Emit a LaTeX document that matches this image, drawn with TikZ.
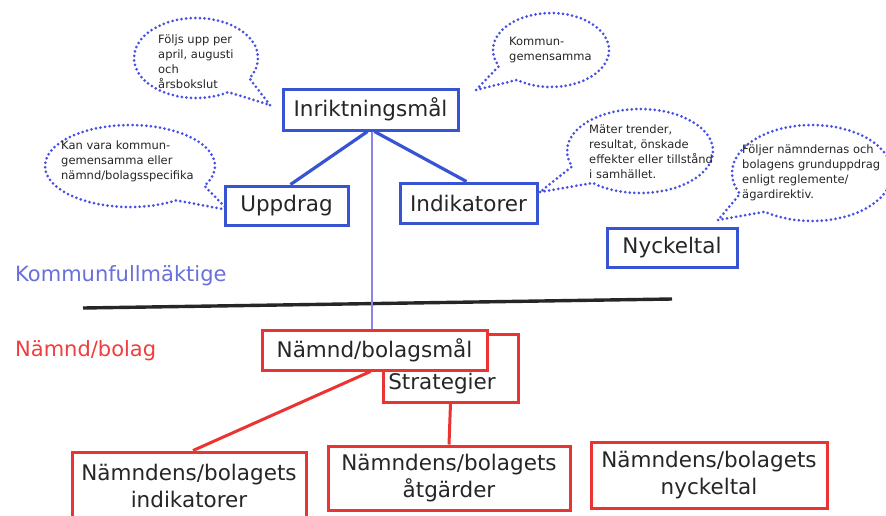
\documentclass[tikz,border=0pt]{standalone}
\usepackage{fontspec}
\setmainfont{DejaVu Sans}
\usetikzlibrary{shapes.callouts}
\definecolor{kfblue}{RGB}{55,85,210}
\definecolor{nbred}{RGB}{234,52,52}
\definecolor{dotblue}{RGB}{70,80,228}
\definecolor{txt}{RGB}{38,38,38}
\definecolor{kflabel}{RGB}{105,112,218}
\definecolor{nblabel}{RGB}{240,62,62}
\definecolor{vline}{RGB}{140,132,228}
\tikzset{
  bluebox/.style={draw=kfblue, line width=3pt, fill=white, inner sep=0pt, text=txt,
    font=\fontsize{21.5}{26}\selectfont},
  redbox/.style={draw=nbred, line width=3pt, fill=white, inner sep=0pt, text=txt,
    align=center, font=\fontsize{21.5}{27}\selectfont},
  bubble/.style={ellipse callout, draw=dotblue, line width=3pt, dash pattern=on 0pt off 4.6pt,
    line cap=round, callout pointer arc=28, inner sep=0pt},
  btext/.style={anchor=west, align=left, inner sep=0pt, text=txt,
    font=\fontsize{11.5}{15}\selectfont},
  boxtext/.style={inner sep=0pt, text=txt, font=\fontsize{21.5}{26}\selectfont},
  blueline/.style={draw=kfblue, line width=3.2pt},
  redline/.style={draw=nbred, line width=3pt},
  thinline/.style={draw=vline, line width=1.6pt},
  divider/.style={draw=black!85, line width=3.4pt},
  sidelabel/.style={anchor=west, inner sep=0pt, font=\fontsize{21}{25}\selectfont},
}
\begin{document}
\begin{tikzpicture}[x=1pt, y=-1pt]
\useasboundingbox[fill=white] (0,0) rectangle (886,515);

% speech bubbles
\node[bubble, minimum width=124pt, minimum height=80pt, callout absolute pointer={(270,105)}] (c1) at (196,58) {};
\node[bubble, minimum width=116pt, minimum height=74pt, callout absolute pointer={(476,90)}] (c2) at (551,50) {};
\node[bubble, minimum width=170pt, minimum height=82pt, callout absolute pointer={(228,210)}] (c3) at (130,166) {};
\node[bubble, minimum width=146pt, minimum height=84pt, callout absolute pointer={(540,192)}] (c4) at (640,151) {};
\node[bubble, minimum width=160pt, minimum height=96pt, callout absolute pointer={(718,220)}] (c5) at (812,173) {};

\node[btext] (t1) at (158,62) {Följs upp per\\april, augusti\\och\\årsbokslut};
\node[btext] (t2) at (509,50) {Kommun-\\gemensamma};
\node[btext] (t3) at (61,161) {Kan vara kommun-\\gemensamma eller\\nämnd/bolagsspecifika};
\node[btext] (t4) at (589,152) {Mäter trender,\\resultat, önskade\\effekter eller tillstånd\\i samhället.};
\node[btext] (t5) at (742,173) {Följer nämndernas och\\bolagens grunduppdrag\\enligt reglemente/\\ägardirektiv.};

% upper level boxes
\node[bluebox, minimum width=175pt, minimum height=41pt] (inr) at (370.5,109.5) {Inriktningsmål};
\node[bluebox, minimum width=123pt, minimum height=39pt] (upp) at (286.5,205.5) {Uppdrag};
\node[bluebox, minimum width=137pt, minimum height=40pt] (ind) at (468.5,203) {Indikatorer};
\node[bluebox, minimum width=130pt, minimum height=39pt] (nyc) at (672,247.5) {Nyckeltal};

% side labels and divider
\node[sidelabel, text=kflabel] (kf) at (15,276) {Kommunfullmäktige};
\node[sidelabel, text=nblabel] (nb) at (15,351) {Nämnd/bolag};
\coordinate (hl) at (83,308);
\coordinate (hr) at (672,299);
\draw[divider] (hl) -- (hr);

% lower level boxes
\node[draw=nbred, line width=3pt, fill=white, minimum width=135pt, minimum height=68pt, inner sep=0pt] (str) at (450.5,368) {};
\node[boxtext] (strlbl) at (442,384) {Strategier};
\node[redbox, minimum width=225pt, minimum height=40pt] (nbm) at (374.5,350) {Nämnd/bolagsmål};
\node[redbox, minimum width=234pt, minimum height=68pt] (bi) at (189,486) {Nämndens/bolagets\\indikatorer};
\node[redbox, minimum width=242pt, minimum height=64pt] (ba) at (449,478) {Nämndens/bolagets\\åtgärder};
\node[redbox, minimum width=236pt, minimum height=66pt] (bn) at (709,475) {Nämndens/bolagets\\nyckeltal};

% connectors
\draw[blueline] ([xshift=-3pt]inr.south) -- ([xshift=4pt]upp.north);
\draw[blueline] ([xshift=4pt]inr.south) -- ([xshift=-2pt]ind.north);
\draw[thinline] ([xshift=1.5pt]inr.south) -- ([xshift=-2.5pt]nbm.north);
\draw[redline] ([xshift=-4pt]nbm.south) -- ([xshift=4pt]bi.north);
\draw[redline] (str.south) -- (ba.north);
\end{tikzpicture}
\end{document}
